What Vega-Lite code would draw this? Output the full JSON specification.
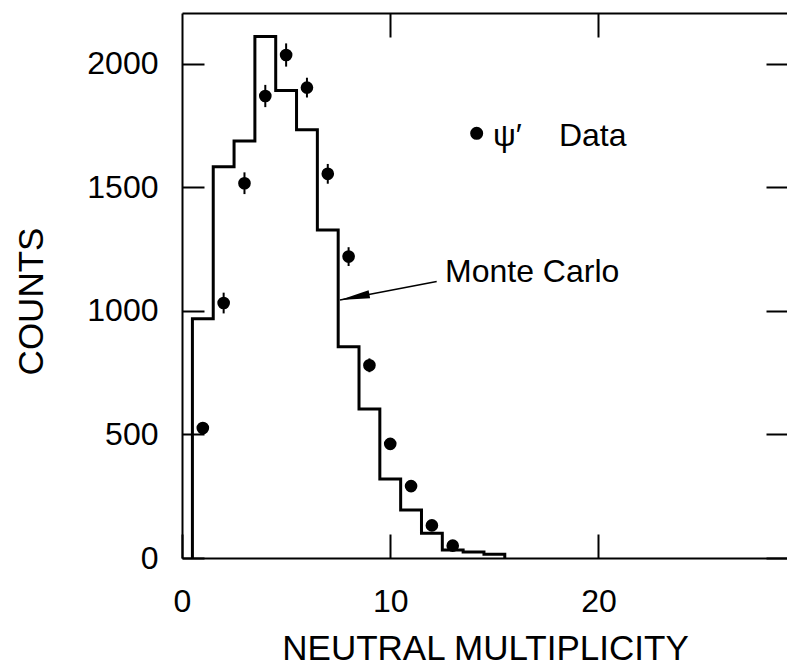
{
  "$schema": "https://vega.github.io/schema/vega-lite/v6.json",
  "width": 606,
  "height": 545,
  "autosize": {"type": "none"},
  "padding": {"left": 182, "top": 13, "right": 0, "bottom": 113},
  "background": "white",
  "config": {
    "view": {"stroke": null},
    "font": "Liberation Sans",
    "axis": {
      "grid": false,
      "domainColor": "black",
      "tickColor": "black",
      "labelColor": "black",
      "titleColor": "black",
      "domainWidth": 2,
      "tickWidth": 2,
      "labelFont": "Liberation Sans",
      "titleFont": "Liberation Sans",
      "labelFontSize": 32,
      "titleFontSize": 35,
      "titleFontWeight": "normal"
    }
  },
  "datasets": {
    "mc": [
      {"k": 0, "edge": 0.5, "count": 0},
      {"k": 1, "edge": 0.5, "count": 968},
      {"k": 2, "edge": 1.5, "count": 1584},
      {"k": 3, "edge": 2.5, "count": 1688},
      {"k": 4, "edge": 3.5, "count": 2111},
      {"k": 5, "edge": 4.5, "count": 1892},
      {"k": 6, "edge": 5.5, "count": 1733},
      {"k": 7, "edge": 6.5, "count": 1328},
      {"k": 8, "edge": 7.5, "count": 855},
      {"k": 9, "edge": 8.5, "count": 603},
      {"k": 10, "edge": 9.5, "count": 320},
      {"k": 11, "edge": 10.5, "count": 194},
      {"k": 12, "edge": 11.5, "count": 100},
      {"k": 13, "edge": 12.5, "count": 32},
      {"k": 14, "edge": 13.5, "count": 24},
      {"k": 15, "edge": 14.5, "count": 15},
      {"k": 16, "edge": 15.5, "count": 0}
    ],
    "data": [
      {"n": 1, "count": 526, "lo": 503, "hi": 549},
      {"n": 2, "count": 1032, "lo": 990, "hi": 1074},
      {"n": 3, "count": 1517, "lo": 1473, "hi": 1561},
      {"n": 4, "count": 1870, "lo": 1825, "hi": 1915},
      {"n": 5, "count": 2036, "lo": 1989, "hi": 2083},
      {"n": 6, "count": 1904, "lo": 1864, "hi": 1944},
      {"n": 7, "count": 1555, "lo": 1515, "hi": 1595},
      {"n": 8, "count": 1220, "lo": 1182, "hi": 1258},
      {"n": 9, "count": 780, "lo": 752, "hi": 808},
      {"n": 10, "count": 462, "lo": 440, "hi": 484},
      {"n": 11, "count": 291, "lo": 274, "hi": 308},
      {"n": 12, "count": 132, "lo": 120, "hi": 144},
      {"n": 13, "count": 50, "lo": 43, "hi": 57}
    ],
    "labels": [
      {"x": 14.93, "y": 1668, "label": "ψ′"},
      {"x": 18.1, "y": 1668, "label": "Data"},
      {"x": 12.63, "y": 1117, "label": "Monte Carlo"}
    ],
    "dot": [{"x": 14.15, "y": 1719}],
    "arrow": [{"x": 12.23, "y": 1119, "x2": 7.585, "y2": 1044}],
    "head": [{"x": 8.29, "y": 1056}]
  },
  "layer": [
    {
      "data": {"name": "mc"},
      "mark": {"type": "line", "interpolate": "step-after", "color": "black", "strokeWidth": 3, "strokeJoin": "miter"},
      "encoding": {
        "x": {
          "field": "edge", "type": "quantitative",
          "scale": {"domain": [0, 29.1], "nice": false, "zero": false},
          "axis": {"orient": "bottom", "values": [0, 10, 20], "format": "d", "tickSize": -24, "labelPadding": 52, "title": "NEUTRAL MULTIPLICITY", "titlePadding": 14, "labelFlush": false}
        },
        "y": {
          "field": "count", "type": "quantitative",
          "scale": {"domain": [0, 2206], "nice": false},
          "axis": {"orient": "left", "values": [0, 500, 1000, 1500, 2000], "format": "d", "tickSize": -22, "labelPadding": 46, "title": "COUNTS", "titleX": -133, "titleY": 288, "labelFlush": false}
        },
        "order": {"field": "k", "type": "quantitative"}
      }
    },
    {
      "data": {"name": "data"},
      "mark": {"type": "rule", "color": "black", "strokeWidth": 2},
      "encoding": {
        "x": {"field": "n", "type": "quantitative", "axis": {"orient": "top", "values": [10, 20], "tickSize": -24, "labels": false, "title": null}},
        "y": {"field": "lo", "type": "quantitative", "axis": {"orient": "right", "values": [0, 500, 1000, 1500, 2000], "tickSize": -22, "labels": false, "title": null}},
        "y2": {"field": "hi"}
      }
    },
    {
      "data": {"name": "data"},
      "mark": {"type": "point", "filled": true, "color": "black", "size": 160, "opacity": 1},
      "encoding": {
        "x": {"field": "n", "type": "quantitative", "axis": null},
        "y": {"field": "count", "type": "quantitative", "axis": null}
      }
    },
    {
      "data": {"name": "dot"},
      "mark": {"type": "point", "filled": true, "color": "black", "size": 170, "opacity": 1},
      "encoding": {
        "x": {"field": "x", "type": "quantitative", "axis": null},
        "y": {"field": "y", "type": "quantitative", "axis": null}
      }
    },
    {
      "data": {"name": "labels"},
      "mark": {"type": "text", "align": "left", "baseline": "alphabetic", "fontSize": 32, "font": "Liberation Sans", "color": "black"},
      "encoding": {
        "x": {"field": "x", "type": "quantitative", "axis": null},
        "y": {"field": "y", "type": "quantitative", "axis": null},
        "text": {"field": "label"}
      }
    },
    {
      "data": {"name": "arrow"},
      "mark": {"type": "rule", "color": "black", "strokeWidth": 1.6},
      "encoding": {
        "x": {"field": "x", "type": "quantitative", "axis": null},
        "y": {"field": "y", "type": "quantitative", "axis": null},
        "x2": {"field": "x2"},
        "y2": {"field": "y2"}
      }
    },
    {
      "data": {"name": "head"},
      "mark": {"type": "point", "filled": true, "color": "black", "opacity": 1, "shape": "M -1 0 L 1 -0.27 L 1 0.27 Z", "size": 900, "angle": -10.7},
      "encoding": {
        "x": {"field": "x", "type": "quantitative", "axis": null},
        "y": {"field": "y", "type": "quantitative", "axis": null}
      }
    }
  ],
  "resolve": {"axis": {"x": "independent", "y": "independent"}}
}
